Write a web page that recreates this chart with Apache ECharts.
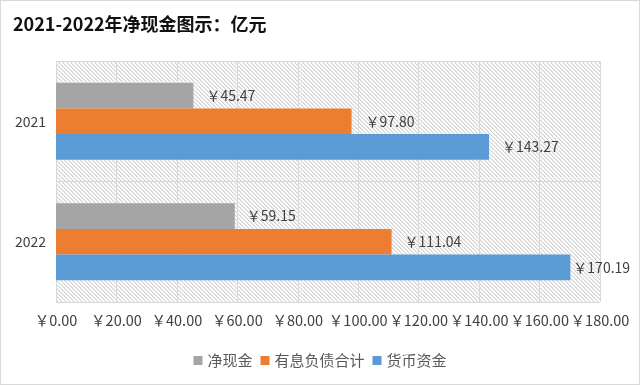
<!DOCTYPE html>
<html><head><meta charset="utf-8">
<script src="https://cdn.jsdelivr.net/npm/echarts@6/dist/echarts.min.js"></script>
<style>html,body{margin:0;padding:0;background:#fff}#c{width:638px;height:383px;border:1px solid #d9d9d9}</style>
</head><body><div id="c"></div>
<script>
var categories = ['2021', '2022'];
var netCash = [45.47, 59.15];
var interestDebt = [97.80, 111.04];
var cashFunds = [143.27, 170.19];
var seriesNames = ['净现金', '有息负债合计', '货币资金'];
var xTicks = [0, 20, 40, 60, 80, 100, 120, 140, 160, 180];

var tile = document.createElement('canvas');
tile.width = 4; tile.height = 4;
var g = tile.getContext('2d');
g.fillStyle = '#ffffff'; g.fillRect(0, 0, 4, 4);
for (var i = 0; i < 4; i++) {
  g.fillStyle = '#d2d2d2'; g.fillRect(i, i, 1, 1);
  g.fillStyle = '#ebebeb'; g.fillRect((i + 1) % 4, i, 1, 1);
}

var FONT = '"Noto Sans CJK SC", sans-serif';
function fmt(v) { return '￥' + v.toFixed(2); }
function lab(arr, dists) {
  return arr.map(function (v, i) {
    return { value: v, label: { distance: dists[i] } };
  });
}
var labelStyle = { show: true, position: 'right', fontFamily: FONT, fontSize: 14, color: '#404040', formatter: function (p) { return fmt(p.value); } };

var chart = echarts.init(document.getElementById('c'));
chart.setOption({
  animation: false,
  title: {
    text: '2021-2022年净现金图示：亿元',
    left: 7, top: 9,
    textStyle: { fontFamily: FONT, fontSize: 18, fontWeight: 'bold', color: '#111' }
  },
  legend: {
    bottom: 11, left: 'center',
    itemWidth: 9, itemHeight: 9, itemGap: 8,
    icon: 'rect',
    textStyle: { fontFamily: FONT, fontSize: 15, color: '#595959' },
    data: seriesNames
  },
  grid: {
    left: 55, right: 39, top: 60, bottom: 82,
    show: false
  },
  xAxis: {
    type: 'value', min: xTicks[0], max: xTicks[xTicks.length - 1], interval: xTicks[1] - xTicks[0],
    axisLine: { show: false }, axisTick: { show: false },
    splitLine: { show: true, lineStyle: { color: '#d9d9d9' } },
    axisLabel: {
      fontFamily: FONT, fontSize: 14.5, color: '#404040', margin: 11,
      formatter: function (v) { return fmt(v); }
    }
  },
  yAxis: {
    type: 'category', data: categories, inverse: true,
    axisLine: { show: true, lineStyle: { color: '#d9d9d9' } },
    axisTick: { show: false },
    splitLine: { show: true, lineStyle: { color: '#d9d9d9' } },
    axisLabel: { fontFamily: FONT, fontSize: 14, color: '#404040', margin: 10 }
  },
  series: [
    { name: seriesNames[0], type: 'bar', data: lab(netCash, [13, 12]), itemStyle: { color: '#a5a5a5' },
      barCategoryGap: '36%', barGap: '0%', label: labelStyle },
    { name: seriesNames[1], type: 'bar', data: lab(interestDebt, [14, 13]), itemStyle: { color: '#ed7d31' },
      barCategoryGap: '36%', barGap: '0%', label: labelStyle },
    { name: seriesNames[2], type: 'bar', data: lab(cashFunds, [13, 3]), itemStyle: { color: '#5b9bd5' },
      barCategoryGap: '36%', barGap: '0%', label: labelStyle }
  ]
});
var rect = chart.getModel().getComponent('grid').coordinateSystem.getRect();
chart.setOption({
  graphic: [{
    type: 'rect', z: -10, silent: true,
    shape: { x: rect.x, y: rect.y, width: rect.width, height: rect.height },
    style: { fill: { image: tile, repeat: 'repeat' } }
  }]
});
</script></body></html>
